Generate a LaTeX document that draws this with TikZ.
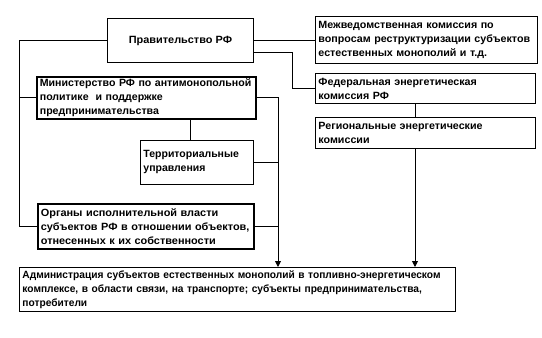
\documentclass[tikz,border=0pt]{standalone}
\usepackage{fontspec}
\setmainfont{Liberation Sans}
\usetikzlibrary{arrows.meta}
\newcommand{\stretchto}[1]{\addfontfeatures{FakeStretch=#1}}
\tikzset{
  box/.style={draw, line width=0.9pt, rectangle, anchor=north west, inner xsep=3pt, inner ysep=0pt, align=left, font=\fontsize{10.5}{14}\selectfont\bfseries},
  thickbox/.style={box, line width=1.7pt},
  link/.style={line width=0.9pt},
  arr/.style={link, -{Triangle[width=6pt,length=6pt]}}
}
\begin{document}
\begin{tikzpicture}[x=1pt,y=-1pt]
\useasboundingbox (0,0) rectangle (542,338);
\node[box, align=center, minimum width=146pt, minimum height=44pt] (prav) at (107,18) {\stretchto{1.04}Правительство РФ};
\node[box, text width=216pt, minimum height=47pt] (mez) at (315,16) {\stretchto{1.02}\mbox{Межведомственная комиссия по}\\\mbox{вопросам реструктуризации субъектов}\\\mbox{естественных монополий и т.д.}};
\node[box, text width=214pt, minimum height=30pt] (fed) at (315,73) {\stretchto{1.02}Федеральная энергетическая\\комиссия РФ};
\node[box, text width=214pt, minimum height=31pt] (reg) at (315,117) {\stretchto{1.02}Региональные энергетические\\комиссии};
\node[thickbox, text width=213pt, minimum height=42pt] (min) at (36,76) {\stretchto{1.01}\mbox{Министерство РФ по антимонопольной}\\политике~ и поддержке\\предпринимательства};
\node[box, text width=107pt, minimum height=44pt] (ter) at (140,140) {Территориальные\\управления};
\node[thickbox, text width=210pt, minimum height=45pt] (org) at (37,203) {\stretchto{1.04}Органы исполнительной власти\\\mbox{субъектов РФ в отношении объектов,}\\отнесенных к их собственности};
\node[box, text width=430pt, minimum height=44pt] (bot) at (19,267) {\stretchto{0.97}\mbox{Администрация субъектов естественных монополий в топливно-энергетическом}\\\mbox{комплексе, в области связи, на транспорте; субъекты предпринимательства,}\\потребители};
\coordinate (lt) at (19,0);
\coordinate (rt) at (278,0);
\coordinate (mt) at (190,0);
\coordinate (fj) at (292,0);
\coordinate (ft) at (415,0);
\draw[link] (prav.west) -- (prav.west -| lt) |- (org.west);
\draw[link] (min.west) -- (min.west -| lt);
\draw[arr] (min.east) -| (rt |- bot.north);
\draw[link] (ter.east) -- (ter.east -| rt);
\draw[link] (org.east) -- (org.east -| rt);
\draw[link] (min.south -| mt) -- (ter.north -| mt);
\draw[link] (mez.west -| prav.east) -- (mez.west);
\draw[link] ([yshift=10pt]prav.south east) -- ([yshift=10pt]prav.south east -| fj) |- (fed.west);
\draw[link] (fed.south -| ft) -- (reg.north -| ft);
\draw[arr] (reg.south -| ft) -- (bot.north -| ft);
\end{tikzpicture}
\end{document}
